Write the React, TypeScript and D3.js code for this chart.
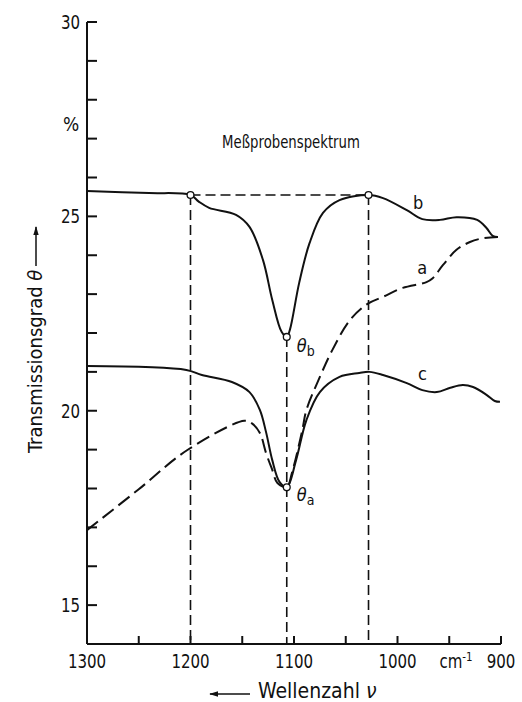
import * as d3 from "d3";

// wavenumber (cm-1) and transmission (%)
const bWave = [1300, 1240, 1200, 1192, 1182, 1156, 1143, 1130, 1121, 1112, 1107, 1104, 1095, 1085, 1072, 1056, 1028, 1014, 991, 976, 959, 943, 923, 914, 908, 903];
const bTrans = [25.65, 25.6, 25.55, 25.38, 25.22, 25.04, 24.73, 23.88, 22.85, 22.03, 21.9, 22.08, 23.29, 24.31, 25.09, 25.42, 25.55, 25.47, 25.16, 24.93, 24.91, 24.98, 24.91, 24.7, 24.5, 24.47];

const aWave = [1300, 1250, 1203, 1148, 1141, 1133, 1127, 1121, 1116, 1107, 1102, 1092, 1088, 1075, 1063, 1046, 1029, 1014, 995, 972, 966, 956, 943, 930, 917, 903];
const aTrans = [16.93, 17.98, 18.99, 19.74, 19.68, 19.43, 18.91, 18.48, 18.14, 18.03, 18.4, 19.5, 20.02, 20.87, 21.56, 22.33, 22.75, 22.93, 23.16, 23.31, 23.41, 23.75, 24.14, 24.34, 24.44, 24.47];

const cWave = [1300, 1204, 1189, 1160, 1143, 1133, 1127, 1121, 1114, 1107, 1098, 1088, 1075, 1056, 1037, 1027, 1014, 991, 976, 962, 949, 937, 927, 914, 906, 901];
const cTrans = [21.15, 21.05, 20.92, 20.74, 20.48, 20.02, 19.45, 18.73, 18.17, 18.03, 18.73, 19.76, 20.48, 20.87, 20.97, 21.0, 20.92, 20.71, 20.53, 20.48, 20.59, 20.66, 20.61, 20.41, 20.25, 20.23];

const waveTicks = [1300, 1250, 1200, 1150, 1100, 1050, 1000, 950, 900];
const waveLabels = [1300, 1200, 1100, 1000, 900];
const transTicks = [15, 16, 17, 18, 19, 20, 21, 22, 23, 24, 25, 26, 27, 28, 29, 30];
const transLabels = [15, 20, 25, 30];

const leftBase = 1200;
const rightBase = 1028;
const baseLevel = 25.55;
const peakWave = 1107;
const thetaB = 21.9;
const thetaA = 18.03;

const FONT = "'DejaVu Sans Condensed', 'DejaVu Sans', sans-serif";

const W = 522;
const H = 702;

export default function App() {
  const x = d3.scaleLinear().domain([1300, 900]).range([87, 501]);
  const y = d3.scaleLinear().domain([14, 30]).range([644, 22]);

  const line = d3
    .line<[number, number]>()
    .x((d) => x(d[0]))
    .y((d) => y(d[1]))
    .curve(d3.curveCatmullRom.alpha(0.5));

  const pts = (w: number[], t: number[]) => w.map((v, i) => [v, t[i]] as [number, number]);

  const circles = [
    [leftBase, baseLevel],
    [rightBase, baseLevel],
    [peakWave, thetaB],
    [peakWave, thetaA],
  ];

  // narrow lettering like the original drawing
  const narrow = (px: number, py: number, s = 0.88) => `translate(${px},${py}) scale(${s},1)`;

  return (
    <svg
      width={W}
      height={H}
      style={{ position: "absolute", left: 0, top: 0, background: "#fff" }}
      fontFamily={FONT}
    >
      <defs>
        <marker id="arrow" viewBox="0 0 10 10" refX="9" refY="5" markerWidth="6" markerHeight="6" orient="auto">
          <path d="M0,2 L10,5 L0,8 Z" fill="#111" />
        </marker>
      </defs>

      {/* reference lines */}
      <g stroke="#111" strokeWidth={1.6} strokeDasharray="10,5" fill="none">
        <line x1={x(leftBase)} x2={x(leftBase)} y1={y(baseLevel)} y2={y(14)} />
        <line x1={x(rightBase)} x2={x(rightBase)} y1={y(baseLevel)} y2={y(14)} />
        <line x1={x(peakWave)} x2={x(peakWave)} y1={y(thetaB)} y2={y(14)} />
        <line x1={x(leftBase)} x2={x(rightBase)} y1={y(baseLevel)} y2={y(baseLevel)} />
      </g>

      {/* curves */}
      <path d={line(pts(aWave, aTrans)) ?? ""} fill="none" stroke="#111" strokeWidth={2} strokeDasharray="14,6" />
      <path d={line(pts(cWave, cTrans)) ?? ""} fill="none" stroke="#111" strokeWidth={2} />
      <path d={line(pts(bWave, bTrans)) ?? ""} fill="none" stroke="#111" strokeWidth={2} />

      {circles.map(([v, t], i) => (
        <circle key={i} cx={x(v)} cy={y(t)} r={3.4} fill="#fff" stroke="#111" strokeWidth={1.3} />
      ))}

      {/* axes */}
      <g stroke="#111" strokeWidth={2} fill="none">
        <line x1={x(1300)} x2={x(1300)} y1={y(30)} y2={y(14)} />
        <line x1={x(1300)} x2={x(900)} y1={y(14)} y2={y(14)} />
        {transTicks.map((t) => (
          <line key={t} x1={x(1300)} x2={x(1300) + 10} y1={y(t)} y2={y(t)} />
        ))}
        {waveTicks.map((v) => (
          <line key={v} x1={x(v)} x2={x(v)} y1={y(14)} y2={y(14) - 8} />
        ))}
      </g>

      <g fontSize={19} fill="#111">
        {transLabels.map((t) => (
          <text key={t} transform={narrow(x(1300) - 7, y(t))} dy="0.36em" textAnchor="end">
            {t}
          </text>
        ))}
        {waveLabels.map((v) => (
          <text key={v} transform={narrow(x(v), y(14) + 24)} textAnchor="middle">
            {v}
          </text>
        ))}
        <text transform={narrow(456, y(14) + 24)} textAnchor="middle">
          cm<tspan dy={-7} fontSize={13}>-1</tspan>
        </text>
        <text x={71} y={131} textAnchor="middle">%</text>
      </g>

      <text transform={narrow(291, 148, 0.82)} textAnchor="middle" fontSize={18} fill="#111">
        Meßprobenspektrum
      </text>

      {/* curve labels */}
      <g fontSize={18} fill="#111">
        <text x={x(980)} y={y(25.35)} dy="0.35em" textAnchor="middle">b</text>
        <text x={x(976)} y={y(23.67)} dy="0.35em" textAnchor="middle">a</text>
        <text x={x(976)} y={y(20.95)} dy="0.35em" textAnchor="middle">c</text>
        <text x={x(peakWave) + 10} y={y(thetaB) + 15}>
          <tspan fontStyle="italic">θ</tspan>
          <tspan fontSize={14} dy={4}>b</tspan>
        </text>
        <text x={x(peakWave) + 10} y={y(thetaA) + 14}>
          <tspan fontStyle="italic">θ</tspan>
          <tspan fontSize={14} dy={4}>a</tspan>
        </text>
      </g>

      {/* axis titles */}
      <text transform="translate(42,453) rotate(-90)" fontSize={20} fill="#111">
        Transmissionsgrad <tspan fontStyle="italic">θ</tspan>
      </text>
      <line x1={36} x2={36} y1={266} y2={227} stroke="#111" strokeWidth={1.5} markerEnd="url(#arrow)" />

      <line x1={250} x2={210} y1={694} y2={694} stroke="#111" strokeWidth={1.5} markerEnd="url(#arrow)" />
      <text x={258} y={698} fontSize={21} fill="#111">
        Wellenzahl <tspan fontStyle="italic">ν</tspan>
      </text>
    </svg>
  );
}
